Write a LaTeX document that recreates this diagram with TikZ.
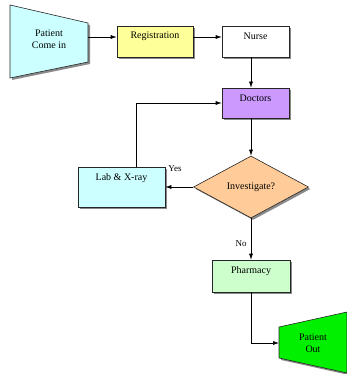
\documentclass[tikz,border=0pt]{standalone}
\usepackage{fontspec}
\setmainfont{Liberation Serif}
\usetikzlibrary{shapes.geometric,shadows,arrows.meta}
\definecolor{cyanfill}{HTML}{CCFFFF}
\definecolor{yellowfill}{HTML}{FFFF99}
\definecolor{violetfill}{HTML}{CC99FF}
\definecolor{peachfill}{HTML}{FFCC99}
\definecolor{greenfill}{HTML}{CCFFCC}
\definecolor{brightgreen}{HTML}{00F000}
\definecolor{shadowgray}{HTML}{8A8A8A}
\begin{document}
\begin{tikzpicture}[x=1pt,y=-1pt,
  font=\fontsize{10}{12}\selectfont,
  box/.style={draw=black!85, line width=0.6pt, inner sep=0pt,
    drop shadow={shadow xshift=2pt,shadow yshift=-2pt,fill=shadowgray,opacity=1}},
  conn/.style={draw=black, line width=0.6pt, -{Latex[length=6pt,width=4pt]}},
  lbl/.style={anchor=center,yshift=-11pt},
  trap/.style={draw=black!85, line width=0.6pt},
  trapshadow/.style={fill=shadowgray}
]
\useasboundingbox (0,0) rectangle (347,374);

% Patient Come in
\fill[trapshadow] (12,7) -- (90,25) -- (90,64) -- (12,80) -- cycle;
\draw[trap, fill=cyanfill] (10,5) -- (88,23) -- (88,62) -- (10,78) -- cycle;
\node[align=center] (pin) at (49,39) {Patient\\Come in};
\coordinate (pinE) at (88,37);

% Boxes
\node[box, fill=yellowfill, minimum width=76pt, minimum height=31pt,
  label={[lbl]north:Registration}] (reg) at (155,41.5) {};
\node[box, fill=white, minimum width=67pt, minimum height=31pt,
  label={[lbl]north:Nurse}] (nurse) at (255.5,41.5) {};
\node[box, fill=violetfill, minimum width=67pt, minimum height=30pt,
  label={[lbl]north:Doctors}] (doc) at (255.5,103) {};
\node[box, fill=cyanfill, minimum width=87pt, minimum height=40pt,
  label={[lbl]north:Lab \& X-ray}] (lab) at (121.5,187) {};
\node[box, diamond, fill=peachfill, minimum width=115pt, minimum height=62pt,
  aspect=1.85] (inv) at (251,187) {Investigate?};
\node[box, fill=greenfill, minimum width=78pt, minimum height=32pt,
  label={[lbl]north:Pharmacy}] (pharm) at (251,276) {};

% Patient Out
\fill[trapshadow] (281,329) -- (349,314) -- (349,375) -- (281,360) -- cycle;
\draw[trap, fill=brightgreen] (279,327) -- (347,312) -- (347,373) -- (279,358) -- cycle;
\node[align=center] (pout) at (313,343) {Patient\\Out};
\coordinate (poutW) at (279,343);

% Connectors
\draw[conn] (pinE) -- (pinE -| reg.west);
\draw[conn] ([yshift=4.5pt]reg.east) -- ([yshift=4.5pt]nurse.west);
\draw[conn] (inv.north |- nurse.south) -- (inv.north |- doc.north);
\draw[conn] ([xshift=14.5pt]lab.north) |- (doc.west);
\draw[conn] (inv.north |- doc.south) -- (inv.north);
\draw[conn] (inv.west) -- (lab.east);
\draw[conn] (inv.south) -- (inv.south |- pharm.north);
\draw[conn] (pharm.south) |- (poutW);

% Labels
\node[font=\fontsize{9}{10}\selectfont] (yes) at (175,169) {Yes};
\node[font=\fontsize{9}{10}\selectfont] (no) at (241,244) {No};
\end{tikzpicture}
\end{document}
